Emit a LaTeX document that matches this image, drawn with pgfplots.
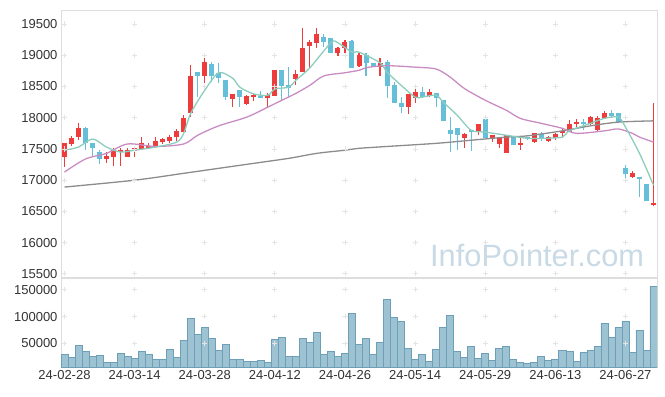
\documentclass[border=0pt]{standalone}
\usepackage{fontspec}
\setmainfont{Liberation Sans}
\usepackage{pgfplots}
\usepackage{pgfplotstable}
\pgfplotsset{compat=1.18}
\definecolor{upred}{HTML}{EE3B3B}
\definecolor{dnblue}{HTML}{66BFD8}
\definecolor{maA}{HTML}{8CCDBE}
\definecolor{maB}{HTML}{C88CC3}
\definecolor{maC}{HTML}{8C8C8C}
\definecolor{volfill}{HTML}{98BFCF}
\definecolor{voledge}{HTML}{6E9FB8}
\definecolor{wm}{HTML}{C8DAE5}
\definecolor{gridc}{HTML}{E4E4E4}
\definecolor{framec}{HTML}{DDDDDD}
\definecolor{labc}{HTML}{333333}

\pgfplotstableread{
i o h l c v
0 17370 17590 17210 17590 29400
1 17580 17710 17540 17670 23800
2 17690 17910 17640 17830 46300
3 17830 17850 17480 17590 35000
4 17590 17590 17370 17510 25600
5 17450 17480 17260 17340 27500
6 17340 17450 17270 17380 14400
7 17370 17510 17220 17480 14400
8 17450 17510 17220 17480 31300
9 17370 17510 17370 17480 25600
10 17460 17530 17370 17510 21900
11 17500 17690 17500 17590 35000
12 17510 17590 17500 17540 29400
13 17530 17690 17510 17620 20000
14 17610 17670 17580 17660 20000
15 17620 17720 17590 17690 38800
16 17690 17820 17620 17790 23800
17 17770 18040 17770 17990 55600
18 18070 18840 18010 18670 96900
19 18730 18730 18330 18670 66900
20 18670 19000 18550 18890 80000
21 18860 18890 18570 18670 59400
22 18720 18880 18550 18630 36900
23 18600 18600 18280 18330 48100
24 18300 18380 18170 18380 20000
25 18440 18440 18170 18330 20000
26 18220 18360 18200 18350 16300
27 18330 18380 18270 18360 16300
28 18350 18430 18310 18310 18100
29 18310 18390 18150 18360 14400
30 18350 18760 18350 18760 57500
31 18760 18760 18280 18510 61300
32 18520 18810 18330 18470 25600
33 18620 18760 18520 18700 25600
34 18730 19440 18730 19120 59400
35 19150 19240 18800 19210 51900
36 19200 19440 19120 19340 70600
37 19290 19340 19130 19210 29400
38 19280 19280 19040 19040 35000
39 19040 19130 18990 19120 25600
40 19120 19240 19040 19210 31300
41 19230 19240 18800 18800 106300
42 18830 19040 18810 19000 48100
43 19000 19040 18670 18880 59400
44 18880 18880 18810 18810 29400
45 18810 18960 18670 18880 51900
46 18890 18920 18310 18510 132500
47 18520 18570 18230 18230 98800
48 18230 18330 18070 18170 91300
49 18170 18380 18060 18380 40600
50 18310 18470 18230 18410 20000
51 18410 18490 18310 18330 29400
52 18350 18460 18330 18410 16300
53 18390 18390 18170 18310 38800
54 18280 18280 17950 17950 80000
55 17800 18010 17450 17740 102500
56 17830 17830 17480 17720 35000
57 17670 17750 17510 17740 23800
58 17800 17800 17460 17770 44400
59 17770 17900 17720 17900 21900
60 17980 17980 17670 17670 31300
61 17670 17720 17610 17720 18100
62 17580 17670 17510 17670 40600
63 17430 17720 17430 17720 44400
64 17710 17710 17560 17560 20000
65 17560 17670 17480 17590 14400
66 17690 17690 17640 17660 12500
67 17610 17750 17590 17750 14400
68 17740 17770 17620 17660 25600
69 17620 17710 17610 17690 18100
70 17670 17750 17640 17740 20000
71 17750 17820 17670 17790 36900
72 17770 17960 17770 17900 35000
73 17900 17980 17850 17930 16300
74 17930 17980 17800 17900 33100
75 17900 18030 17870 18010 36900
76 17800 18030 17790 17990 44400
77 17990 18110 17980 18070 87500
78 18070 18120 17990 18030 61300
79 18070 18070 17910 17930 80000
80 17190 17240 16970 17100 91300
81 17050 17140 17030 17110 33100
82 17050 17050 16730 17020 74400
83 16940 16940 16660 16660 36900
84 16600 18230 16580 16630 156900
}\ohlc

\pgfplotstableread{
i m
0 17480
2 17530
4 17660
6 17530
8 17450
10 17480
13 17530
16 17610
17 17750
18 18070
20 18440
22 18720
24 18630
25 18490
27 18380
29 18360
30 18460
32 18490
33 18600
35 18800
38 19200
39 19200
41 19050
42 19050
45 18880
46 18730
48 18520
50 18330
51 18330
53 18360
54 18250
56 18040
58 17800
60 17770
63 17720
66 17670
68 17670
71 17690
72 17790
75 17910
77 17990
79 18010
80 17850
82 17430
84 16920
}\maFive

\pgfplotstableread{
i m
0 17130
3 17340
6 17430
9 17580
13 17540
17 17580
19 17720
22 17870
26 18010
29 18170
31 18280
33 18390
35 18520
37 18670
40 18720
42 18760
43 18800
45 18830
47 18830
50 18810
53 18780
55 18650
57 18470
60 18280
63 18120
65 17990
68 17910
71 17830
73 17750
77 17790
79 17820
81 17750
82 17690
84 17610
}\maTwenty

\pgfplotstableread{
i m
0 16890
10 17000
17 17110
22 17190
27 17270
32 17350
36 17430
40 17480
42 17510
46 17540
53 17590
58 17640
63 17690
66 17710
71 17790
75 17870
79 17930
84 17950
}\maSixty

\pgfplotsset{
  base/.style={
    scale only axis, width=596bp,
    xmin=-0.5, xmax=84.5,
    axis line style={framec, line width=0.8bp},
    major tick length=0pt,
    tick style={draw=none},
    ticklabel style={font=\fontsize{13bp}{15bp}\selectfont, text=labc},
    scaled y ticks=false,
    yticklabel style={/pgf/number format/fixed, /pgf/number format/precision=0},
    /pgf/number format/1000 sep={},
    /pgf/number format/assume math mode=true,
    clip=true,
  },
  crossmk/.style={gridc, only marks, mark=+, mark size=2.6bp, mark options={line width=0.8bp}},
  candle/.style 2 args={draw=none, mark=none,
    /pgfplots/error bars/y dir=both,
    /pgfplots/error bars/y explicit,
    /pgfplots/error bars/error mark=none,
    /pgfplots/error bars/error bar style={draw=#1, line width=#2}},
}

\begin{document}
\begin{tikzpicture}[x=1bp,y=1bp]
\path[use as bounding box] (0,0) rectangle (665,396);

% ---------- price panel ----------
\begin{axis}[base,
  at={(61bp,119bp)}, anchor=south west, height=267bp,
  ymin=15450, ymax=19725,
  ytick={15500,16000,16500,17000,17500,18000,18500,19000,19500},
  xtick=\empty,
]
\pgfplotsinvokeforeach{15500,16000,16500,17000,17500,18000,18500,19000,19500}{
  \addplot[crossmk] coordinates {(0,#1)(10,#1)(20,#1)(30,#1)(40,#1)(50,#1)(60,#1)(70,#1)(80,#1)};
}
\node[text=wm, font=\fontsize{30.8bp}{31bp}\selectfont, anchor=base west, inner sep=0pt]
  at (rel axis cs:0.619,0.041) {InfoPointer.com};

% wicks
\addplot[candle={upred}{1.1bp}]
  table[x=i, y expr={\thisrow{c}>=\thisrow{o} ? (\thisrow{h}+\thisrow{l})/2 : nan},
        y error expr={(\thisrow{h}-\thisrow{l})/2}] {\ohlc};
\addplot[candle={dnblue}{1.1bp}]
  table[x=i, y expr={\thisrow{c}<\thisrow{o} ? (\thisrow{h}+\thisrow{l})/2 : nan},
        y error expr={(\thisrow{h}-\thisrow{l})/2}] {\ohlc};
% bodies
\addplot[candle={upred}{5bp}]
  table[x=i, y expr={\thisrow{c}>=\thisrow{o} ? (\thisrow{o}+\thisrow{c})/2 : nan},
        y error expr={max(abs(\thisrow{c}-\thisrow{o})/2,12)}] {\ohlc};
\addplot[candle={dnblue}{5bp}]
  table[x=i, y expr={\thisrow{c}<\thisrow{o} ? (\thisrow{o}+\thisrow{c})/2 : nan},
        y error expr={max(abs(\thisrow{c}-\thisrow{o})/2,12)}] {\ohlc};

% moving averages
\addplot[maC, line width=1.3bp, smooth, tension=0.5, mark=none] table[x=i, y=m] {\maSixty};
\addplot[maB, line width=1.3bp, smooth, tension=0.5, mark=none] table[x=i, y=m] {\maTwenty};
\addplot[maA, line width=1.3bp, smooth, tension=0.5, mark=none] table[x=i, y=m] {\maFive};
\end{axis}

% ---------- volume panel ----------
\begin{axis}[base,
  at={(61bp,29bp)}, anchor=south west, height=89bp,
  ymin=6200, ymax=171900,
  ytick={50000,100000,150000},
  xtick={0,10,20,30,40,50,60,70,80},
  xticklabels={24-02-28,24-03-14,24-03-28,24-04-12,24-04-26,24-05-14,24-05-29,24-06-13,24-06-27},
]
\pgfplotsinvokeforeach{50000,100000,150000}{
  \addplot[crossmk] coordinates {(0,#1)(10,#1)(20,#1)(30,#1)(40,#1)(50,#1)(60,#1)(70,#1)(80,#1)};
}
\addplot[ybar, bar width=1, fill=volfill, draw=voledge, line width=0.7bp, fill opacity=0.95]
  table[x=i, y=v] {\ohlc};
\end{axis}
\end{tikzpicture}
\end{document}
